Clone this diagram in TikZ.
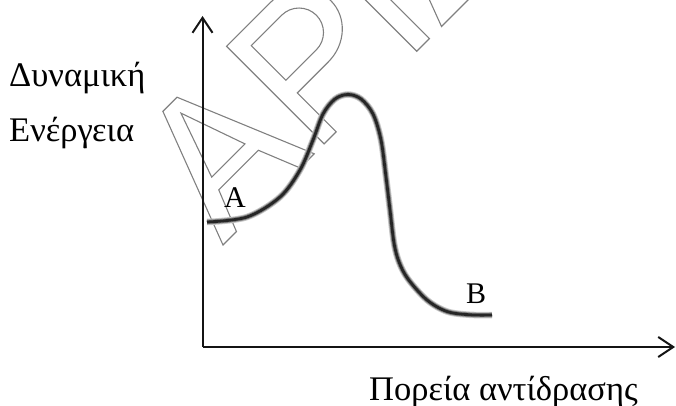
\documentclass[tikz,border=0pt]{standalone}
\usepackage{fontspec}
\setmainfont{Liberation Serif}
\usetikzlibrary{arrows.meta}
\begin{document}
\begin{tikzpicture}[x=1pt,y=-1pt,
  wm/.style={draw=black!50, line width=1.1pt, line join=miter},
  axisline/.style={draw=black!92, line width=2pt, -{Straight Barb[length=15pt,width=20pt]}},
  biglbl/.style={inner sep=0pt, anchor=base west, font=\fontsize{34.5}{40}\selectfont},
  ptlbl/.style={inner sep=0pt, anchor=base west, font=\fontsize{30}{36}\selectfont},
  curvestyle/.style={line width=6.5pt, draw=black!22,
     postaction={draw=black!50, line width=4.6pt},
     postaction={draw=black!85, line width=2.8pt}}]
\useasboundingbox (0,0) rectangle (676,406);
% watermark
\begin{scope}
\clip (0,0) rectangle (676,406);
\begin{scope}[shift={(223,245)}, x={(0.7071pt,0.7071pt)}, y={(-0.7071pt,0.7071pt)}]
 % A
 \draw[wm] (0,0) -- (52,137) -- (72,137) -- (129,0) -- (109,0) -- (92,42) -- (36,42) -- (19,0) -- cycle;
 \draw[wm] (40,56) -- (87,56) -- (63.5,123) -- cycle;
 % P
 \draw[wm] (143,0) -- (143,138) -- (204,138)
   .. controls (228.9,138) and (249,119.4) .. (249,96.5)
   .. controls (249,73.6) and (228.9,55) .. (204,55)
   -- (160,55) -- (160,0) -- cycle;
 \draw[wm] (161,72) -- (161,121) -- (204,121)
   .. controls (217.5,121) and (228.5,110) .. (228.5,96.5)
   .. controls (228.5,83) and (217.5,72) .. (204,72) -- cycle;
 % I
 \draw[wm] (274,0) -- (292,0) -- (292,138) -- (274,138) -- cycle;
 % Sigma
 \draw[wm] (309,0) -- (335,69) -- (310,138) -- (412,138) -- (412,122) -- (338,122)
   -- (356,69) -- (336,16) -- (415,16) -- (415,0) -- cycle;
\end{scope}
\end{scope}
% axes
\coordinate (O) at (202.5,347);
\coordinate (ytop) at (202.5,16);
\coordinate (xend) at (675,347);
\draw[axisline] (O) -- (ytop);
\draw[axisline] (O) -- (xend);
% curve
\draw[curvestyle] plot[smooth, tension=0.55] coordinates {
 (207,222) (247,217) (280,197) (300,170) (313,140) (323,114) (335,99) (348,94.5)
 (361,99) (373,114) (381,140) (386,177) (390,210) (394,243) (399,262) (408,279)
 (427,300) (447,311.5) (470,314.8) (492,315)};
% labels
\node[biglbl] (dyn) at (9,87) {Δυναμική};
\node[biglbl] (ener) at (9,142) {Ενέργεια};
\node[biglbl] (xlab) at (369,400) {Πορεία αντίδρασης};
\node[ptlbl] (lA) at (224,207) {A};
\node[ptlbl] (lB) at (466,303) {B};
\end{tikzpicture}
\end{document}
